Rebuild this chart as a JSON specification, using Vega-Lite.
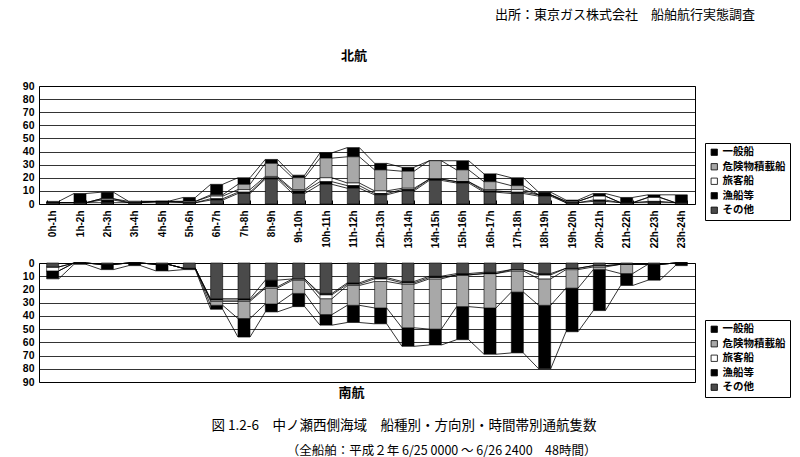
{
  "$schema": "https://vega.github.io/schema/vega-lite/v6.json",
  "background": "white",
  "padding": {"left": 21, "top": 8, "right": 4, "bottom": 4},
  "bounds": "flush",
  "spacing": 59,
  "title": {
    "text": "出所：東京ガス株式会社　船舶航行実態調査",
    "anchor": "end",
    "dx": -36,
    "fontSize": 13,
    "fontWeight": "normal",
    "offset": 28
  },
  "config": {
    "font": "Noto Sans CJK JP",
    "view": {"stroke": "#000", "strokeWidth": 1},
    "axis": {
      "labelFont": "Liberation Sans",
      "labelFontWeight": "bold",
      "labelColor": "#000",
      "labelFontSize": 10.5,
      "labelOverlap": false,
      "domain": false,
      "ticks": false,
      "gridColor": "#000",
      "gridOpacity": 1,
      "gridWidth": 0.8
    },
    "title": {"font": "Noto Sans CJK JP", "color": "#000"},
    "legend": {
      "orient": "none",
      "legendX": 666,
      "legendY": 57,
      "strokeColor": "#000",
      "fillColor": "#fff",
      "padding": 4,
      "symbolType": "square",
      "symbolSize": 40,
      "symbolStrokeColor": "#000",
      "symbolStrokeWidth": 0.8,
      "symbolOpacity": 1,
      "labelFont": "Noto Sans CJK JP",
      "labelFontSize": 10.5,
      "labelFontWeight": "bold",
      "labelColor": "#000",
      "rowPadding": 3.5,
      "labelOffset": 3
    }
  },
  "datasets": {
    "north": [
      {"hour": 0, "一般船": 1, "危険物積載船": 0, "旅客船": 0, "漁船等": 0, "その他": 1},
      {"hour": 1, "一般船": 7, "危険物積載船": 0, "旅客船": 0, "漁船等": 0, "その他": 1},
      {"hour": 2, "一般船": 5, "危険物積載船": 0, "旅客船": 1, "漁船等": 2, "その他": 1},
      {"hour": 3, "一般船": 0, "危険物積載船": 1, "旅客船": 0, "漁船等": 0, "その他": 1},
      {"hour": 4, "一般船": 0, "危険物積載船": 0, "旅客船": 0, "漁船等": 1, "その他": 1},
      {"hour": 5, "一般船": 3, "危険物積載船": 0, "旅客船": 1, "漁船等": 0, "その他": 1},
      {"hour": 6, "一般船": 8, "危険物積載船": 1, "旅客船": 2, "漁船等": 1, "その他": 3},
      {"hour": 7, "一般船": 5, "危険物積載船": 4, "旅客船": 2, "漁船等": 1, "その他": 8},
      {"hour": 8, "一般船": 3, "危険物積載船": 10, "旅客船": 1, "漁船等": 1, "その他": 19},
      {"hour": 9, "一般船": 2, "危険物積載船": 9, "旅客船": 1, "漁船等": 2, "その他": 8},
      {"hour": 10, "一般船": 4, "危険物積載船": 15, "旅客船": 3, "漁船等": 2, "その他": 15},
      {"hour": 11, "一般船": 7, "危険物積載船": 20, "旅客船": 2, "漁船等": 2, "その他": 12},
      {"hour": 12, "一般船": 5, "危険物積載船": 16, "旅客船": 2, "漁船等": 1, "その他": 7},
      {"hour": 13, "一般船": 3, "危険物積載船": 13, "旅客船": 1, "漁船等": 1, "その他": 10},
      {"hour": 14, "一般船": 0, "危険物積載船": 14, "旅客船": 0, "漁船等": 1, "その他": 18},
      {"hour": 15, "一般船": 7, "危険物積載船": 9, "旅客船": 0, "漁船等": 1, "その他": 16},
      {"hour": 16, "一般船": 6, "危険物積載船": 6, "旅客船": 1, "漁船等": 1, "その他": 9},
      {"hour": 17, "一般船": 6, "危険物積載船": 3, "旅客船": 2, "漁船等": 1, "その他": 8},
      {"hour": 18, "一般船": 2, "危険物積載船": 0, "旅客船": 0, "漁船等": 1, "その他": 6},
      {"hour": 19, "一般船": 1, "危険物積載船": 0, "旅客船": 1, "漁船等": 0, "その他": 1},
      {"hour": 20, "一般船": 2, "危険物積載船": 0, "旅客船": 3, "漁船等": 1, "その他": 2},
      {"hour": 21, "一般船": 4, "危険物積載船": 0, "旅客船": 0, "漁船等": 0, "その他": 1},
      {"hour": 22, "一般船": 2, "危険物積載船": 0, "旅客船": 3, "漁船等": 1, "その他": 1},
      {"hour": 23, "一般船": 6, "危険物積載船": 0, "旅客船": 0, "漁船等": 0, "その他": 1}
    ],
    "south": [
      {"hour": 0, "一般船": 6, "危険物積載船": 0, "旅客船": 3, "漁船等": 0, "その他": 3},
      {"hour": 1, "一般船": 1, "危険物積載船": 0, "旅客船": 0, "漁船等": 0, "その他": 0},
      {"hour": 2, "一般船": 4, "危険物積載船": 0, "旅客船": 0, "漁船等": 0, "その他": 1},
      {"hour": 3, "一般船": 2, "危険物積載船": 0, "旅客船": 0, "漁船等": 0, "その他": 0},
      {"hour": 4, "一般船": 5, "危険物積載船": 0, "旅客船": 0, "漁船等": 0, "その他": 1},
      {"hour": 5, "一般船": 1, "危険物積載船": 0, "旅客船": 0, "漁船等": 0, "その他": 4},
      {"hour": 6, "一般船": 3, "危険物積載船": 3, "旅客船": 1, "漁船等": 1, "その他": 27},
      {"hour": 7, "一般船": 14, "危険物積載船": 13, "旅客船": 1, "漁船等": 1, "その他": 27},
      {"hour": 8, "一般船": 6, "危険物積載船": 12, "旅客船": 1, "漁船等": 5, "その他": 13},
      {"hour": 9, "一般船": 10, "危険物積載船": 10, "旅客船": 1, "漁船等": 0, "その他": 12},
      {"hour": 10, "一般船": 8, "危険物積載船": 12, "旅客船": 3, "漁船等": 1, "その他": 23},
      {"hour": 11, "一般船": 13, "危険物積載船": 15, "旅客船": 1, "漁船等": 1, "その他": 15},
      {"hour": 12, "一般船": 12, "危険物積載船": 20, "旅客船": 2, "漁船等": 1, "その他": 11},
      {"hour": 13, "一般船": 14, "危険物積載船": 33, "旅客船": 1, "漁船等": 1, "その他": 14},
      {"hour": 14, "一般船": 12, "危険物積載船": 38, "旅客船": 1, "漁船等": 1, "その他": 10},
      {"hour": 15, "一般船": 25, "危険物積載船": 24, "旅客船": 0, "漁船等": 1, "その他": 8},
      {"hour": 16, "一般船": 35, "危険物積載船": 26, "旅客船": 0, "漁船等": 1, "その他": 7},
      {"hour": 17, "一般船": 46, "危険物積載船": 16, "旅客船": 1, "漁船等": 0, "その他": 5},
      {"hour": 18, "一般船": 48, "危険物積載船": 20, "旅客船": 3, "漁船等": 1, "その他": 8},
      {"hour": 19, "一般船": 33, "危険物積載船": 14, "旅客船": 1, "漁船等": 0, "その他": 4},
      {"hour": 20, "一般船": 31, "危険物積載船": 2, "旅客船": 1, "漁船等": 0, "その他": 2},
      {"hour": 21, "一般船": 9, "危険物積載船": 7, "旅客船": 0, "漁船等": 0, "その他": 1},
      {"hour": 22, "一般船": 12, "危険物積載船": 0, "旅客船": 0, "漁船等": 0, "その他": 1},
      {"hour": 23, "一般船": 2, "危険物積載船": 0, "旅客船": 0, "漁船等": 0, "その他": 0}
    ]
  },
  "resolve": {"scale": {"color": "independent"}, "legend": {"color": "independent"}},
  "vconcat": [
    {
      "data": {"name": "north"},
      "width": 656,
      "height": 118,
      "title": {"text": "北航", "anchor": "middle", "dx": -13, "offset": 18, "fontSize": 13, "fontWeight": "bold"},
      "transform": [
        {"fold": ["一般船", "危険物積載船", "旅客船", "漁船等", "その他"], "as": ["t", "n"]},
        {"calculate": "indexof(['その他', '漁船等', '旅客船', '危険物積載船', '一般船'], datum.t)", "as": "k"},
        {"stack": "n", "groupby": ["hour"], "sort": [{"field": "k", "order": "ascending"}], "as": ["y0", "y1"]},
        {"window": [{"op": "lead", "field": "y1", "as": "ny"}, {"op": "lead", "field": "hour", "as": "nh"}], "groupby": ["t"], "sort": [{"field": "hour", "order": "ascending"}]}
      ],
      "layer": [
        {
          "transform": [{"filter": "datum.nh != null"}],
          "mark": {"type": "rule", "color": "#000", "strokeWidth": 0.8},
          "encoding": {
            "x": {"field": "hour", "type": "ordinal", "bandPosition": 1, "title": null,
              "scale": {"paddingInner": 0.56, "paddingOuter": 0.28},
              "axis": {"title": null, "labelAngle": -90, "labelFontSize": 10, "labelPadding": 10, "ticks": true, "tickBand": "extent", "tickSize": -4, "tickColor": "#000", "labelExpr": "isValid(datum.value) ? datum.value + 'h-' + (datum.value + 1) + 'h' : ''"}},
            "x2": {"field": "nh", "bandPosition": 0},
            "y": {"field": "y1", "type": "quantitative", "title": null,
              "scale": {"domain": [0, 90], "nice": false},
              "axis": {"title": null, "values": [0, 10, 20, 30, 40, 50, 60, 70, 80, 90], "grid": true, "labelPadding": 5}},
            "y2": {"field": "ny"}
          }
        },
        {
          "mark": {"type": "bar", "stroke": "#000", "strokeWidth": 0.6},
          "encoding": {
            "x": {"field": "hour", "type": "ordinal", "title": null,
              "axis": {"title": null, "labelAngle": -90, "labelFontSize": 10, "labelPadding": 10, "ticks": true, "tickBand": "extent", "tickSize": -4, "tickColor": "#000", "labelExpr": "isValid(datum.value) ? datum.value + 'h-' + (datum.value + 1) + 'h' : ''"}},
            "y": {"field": "y0", "type": "quantitative", "title": null,
              "axis": {"title": null, "values": [0, 10, 20, 30, 40, 50, 60, 70, 80, 90], "grid": true, "labelPadding": 5}},
            "y2": {"field": "y1"},
            "color": {
              "field": "t", "type": "nominal", "title": null,
              "scale": {"domain": ["一般船", "危険物積載船", "旅客船", "漁船等", "その他"], "range": ["#000000", "#a8a8a8", "#ffffff", "#000000", "#4a4a4a"]},
              "legend": {"title": null}
            }
          }
        }
      ]
    },
    {
      "data": {"name": "south"},
      "width": 656,
      "height": 119,
      "title": {
        "text": "図 1.2-6　中ノ瀬西側海域　船種別・方向別・時間帯別通航隻数",
        "subtitle": "（全船舶：平成２年 6/25 0000 ～ 6/26 2400　48時間）",
        "orient": "bottom",
        "anchor": "end",
        "dx": -194,
        "offset": 20,
        "fontSize": 13.5,
        "fontWeight": "normal",
        "subtitleFontSize": 12.5,
        "subtitleColor": "#000",
        "subtitleFont": "Noto Sans CJK JP",
        "subtitlePadding": 12
      },
      "transform": [
        {"fold": ["一般船", "危険物積載船", "旅客船", "漁船等", "その他"], "as": ["t", "n"]},
        {"calculate": "indexof(['その他', '漁船等', '旅客船', '危険物積載船', '一般船'], datum.t)", "as": "k"},
        {"stack": "n", "groupby": ["hour"], "sort": [{"field": "k", "order": "ascending"}], "as": ["y0", "y1"]},
        {"window": [{"op": "lead", "field": "y1", "as": "ny"}, {"op": "lead", "field": "hour", "as": "nh"}], "groupby": ["t"], "sort": [{"field": "hour", "order": "ascending"}]}
      ],
      "layer": [
        {
          "transform": [{"filter": "datum.nh != null"}],
          "mark": {"type": "rule", "color": "#000", "strokeWidth": 0.8},
          "encoding": {
            "x": {"field": "hour", "type": "ordinal", "bandPosition": 1, "title": null,
              "scale": {"paddingInner": 0.56, "paddingOuter": 0.28},
              "axis": {"title": "南航", "labels": false, "titleFontSize": 13, "titleFontWeight": "bold", "titlePadding": 4, "titleColor": "#000", "titleX": 312}},
            "x2": {"field": "nh", "bandPosition": 0},
            "y": {"field": "y1", "type": "quantitative", "title": null,
              "scale": {"domain": [0, 90], "nice": false, "reverse": true},
              "axis": {"title": null, "values": [0, 10, 20, 30, 40, 50, 60, 70, 80, 90], "grid": true, "labelPadding": 5}},
            "y2": {"field": "ny"}
          }
        },
        {
          "mark": {"type": "bar", "stroke": "#000", "strokeWidth": 0.6},
          "encoding": {
            "x": {"field": "hour", "type": "ordinal", "title": null,
              "axis": {"title": "南航", "labels": false, "titleFontSize": 13, "titleFontWeight": "bold", "titlePadding": 4, "titleColor": "#000", "titleX": 312}},
            "y": {"field": "y0", "type": "quantitative", "title": null,
              "axis": {"title": null, "values": [0, 10, 20, 30, 40, 50, 60, 70, 80, 90], "grid": true, "labelPadding": 5}},
            "y2": {"field": "y1"},
            "color": {
              "field": "t", "type": "nominal", "title": null,
              "scale": {"domain": ["一般船", "危険物積載船", "旅客船", "漁船等", "その他"], "range": ["#000000", "#a8a8a8", "#ffffff", "#000000", "#4a4a4a"]},
              "legend": {"title": null}
            }
          }
        }
      ]
    }
  ]
}
